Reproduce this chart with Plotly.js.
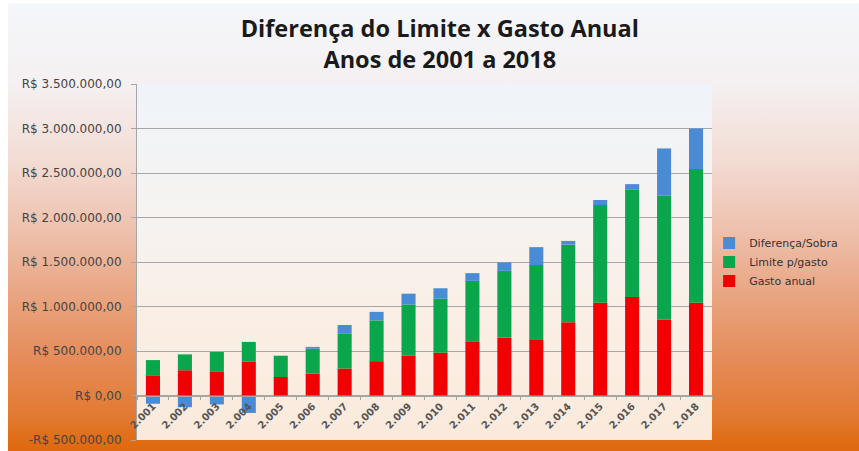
<!DOCTYPE html>
<html><head><meta charset="utf-8">
<script src="https://cdn.plot.ly/plotly-3.0.1.min.js"></script>
<style>
html,body{margin:0;padding:0;background:#fff;}
#wrap{position:relative;width:859px;height:451px;overflow:hidden;background:#fff;}
#frame{position:absolute;left:8px;top:3px;right:0;bottom:0;
 background:linear-gradient(to bottom,#f4f7fb 0%,#f5f0f1 18%,#f3dcd4 35%,#eec2af 50%,#e9a582 65%,#e58b57 80%,#e27a33 92%,#e06c14 98%,#df6810 100%);}
#plotbg{position:absolute;left:137px;top:84px;width:575px;height:356px;
 background:linear-gradient(to bottom,#eff4fa 0%,#f6f3f1 35%,#faeee4 70%,#fbeadb 100%);}
#chart{position:absolute;left:0;top:0;width:859px;height:451px;}
</style></head>
<body><div id="wrap"><div id="frame"></div><div id="plotbg"></div><div id="chart"></div></div>
<script>
const years = ['2.001','2.002','2.003','2.004','2.005','2.006','2.007','2.008','2.009','2.010','2.011','2.012','2.013','2.014','2.015','2.016','2.017','2.018'];
const gastoAnual = [227000, 284000, 265000, 379000, 208000, 246000, 303000, 386000, 447000, 481000, 602000, 651000, 625000, 824000, 1042000, 1106000, 852000, 1042000];
const limiteGasto = [171000, 178000, 224000, 223000, 239000, 280000, 390000, 458000, 576000, 606000, 686000, 750000, 841000, 871000, 1098000, 1205000, 1394000, 1503000];
const diferencaSobra = [-93000, -131000, -100000, -196000, 0, 20000, 99000, 96000, 121000, 118000, 87000, 95000, 201000, 42000, 57000, 64000, 530000, 455000];
const yTickVals = [-500000, 0, 500000, 1000000, 1500000, 2000000, 2500000, 3000000, 3500000];
const yTickText = ['-R$ 500.000,00','R$ 0,00','R$ 500.000,00','R$ 1.000.000,00','R$ 1.500.000,00','R$ 2.000.000,00','R$ 2.500.000,00','R$ 3.000.000,00','R$ 3.500.000,00'];
const seriesNames = ['Gasto anual','Limite p/gasto','Diferença/Sobra'];

const yMin = -500000, yMax = 3500000;
const colors = ['#f20000','#0aa64c','#4a8bd6'];
const vals = [gastoAnual, limiteGasto, diferencaSobra];
const traces = vals.map((v,i)=>({
  type:'bar', x: years, y: v, name: seriesNames[i],
  marker:{color: colors[i], line:{width:0}},
  hoverinfo:'skip'
}));

const layout = {
  width: 859, height: 451,
  margin:{l:137, r:147, t:84, b:11, pad:0},
  paper_bgcolor:'rgba(0,0,0,0)', plot_bgcolor:'rgba(0,0,0,0)',
  barmode:'relative', bargap:0.56,
  title:{text:'Diferença do Limite x Gasto Anual<br>Anos de 2001 a 2018',
    font:{family:'Open Sans', size:23.5, color:'#1a1a1a', weight:'bold'},
    x:0.512, xanchor:'center', y:1 - 37/451, yanchor:'middle', yref:'container'},
  xaxis:{type:'category', anchor:'free', position:(0 - yMin)/(yMax - yMin),
    showline:true, linecolor:'#a6a6a6', linewidth:1,
    ticks:'outside', tickson:'boundaries', ticklen:3, tickcolor:'#a6a6a6',
    tickangle:-45, showgrid:false,
    tickfont:{family:'DejaVu Sans', size:10, color:'#555', weight:'bold'}},
  yaxis:{range:[yMin, yMax], tickvals:yTickVals, ticktext:yTickText,
    showgrid:true, gridcolor:'#a6a6a6', gridwidth:1, zeroline:false,
    showline:true, linecolor:'#a6a6a6', ticks:'outside', ticklen:5, tickcolor:'#a6a6a6',
    ticklabelstandoff:7,
    tickfont:{family:'DejaVu Sans', size:12, color:'#444'}},
  legend:{x:0.995, xanchor:'left', y:0.5, yanchor:'middle', traceorder:'reversed',
    bgcolor:'rgba(0,0,0,0)', font:{family:'DejaVu Sans', size:11, color:'#333'}},
  showlegend:true
};
Plotly.newPlot('chart', traces, layout, {staticPlot:true, displayModeBar:false});
</script></body></html>
